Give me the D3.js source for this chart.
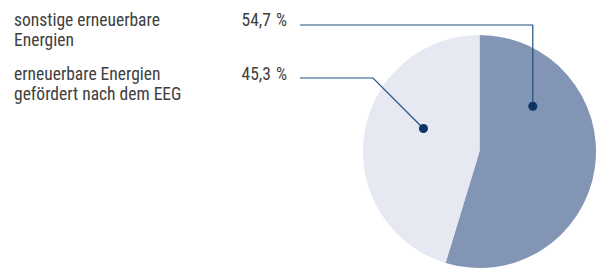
<!DOCTYPE html>
<html>
<head>
<meta charset="utf-8">
<script src="https://cdn.jsdelivr.net/npm/d3@7"></script>
<style>
  body { margin: 0; background: #fff; }
  text { font-family: "Roboto Condensed", "DejaVu Sans Condensed", sans-serif; font-size: 17.5px; fill: #404040; }
</style>
</head>
<body>
<div id="chart"></div>
<script>
// chart data
var labels = [["sonstige erneuerbare", "Energien"], ["erneuerbare Energien", "gefördert nach dem EEG"]];
var values = [54.7, 45.3];
var valueLabels = ["54,7 %", "45,3 %"];
var colors = ["#8295b5", "#e6e8f2"];

var svgWidth = 597;
var svgHeight = 268;

var svg = d3.select("#chart")
  .append("svg")
  .attr("width", svgWidth)
  .attr("height", svgHeight);

// pie position
var cx = 479.5, cy = 151.5, radius = 116.5;

var pie = d3.pie().sort(null).value(d => d);
var arcs = pie(values);
var arc = d3.arc().innerRadius(0).outerRadius(radius);

var pieGroup = svg.append("g")
  .attr("transform", `translate(${cx}, ${cy})`);

pieGroup.selectAll("path")
  .data(arcs)
  .enter()
  .append("path")
  .attr("d", arc)
  .attr("fill", (d, i) => colors[i]);

// text rows
var rowY = [26, 80];
var lineH = 20;

labels.forEach(function(lines, i) {
  var t = svg.append("text")
    .attr("x", 14)
    .attr("y", rowY[i]);
  lines.forEach(function(l, j) {
    t.append("tspan").attr("x", 14).attr("dy", j === 0 ? 0 : lineH).text(l);
  });
  svg.append("text")
    .attr("x", 287)
    .attr("y", rowY[i])
    .attr("text-anchor", "end")
    .attr("word-spacing", 1)
    .text(valueLabels[i]);
});

// callout dots: angle (deg, clockwise from top) and fraction of radius
var callouts = [
  { angle: 49.7, frac: 0.6, lineY: 25, elbowX: null },
  { angle: 292.3, frac: 0.52, lineY: 78, elbowX: 373 }
];

var lineColor = "#20507f";
callouts.forEach(function(c, i) {
  var a = c.angle * Math.PI / 180;
  var dx = cx + Math.sin(a) * radius * c.frac;
  var dy = cy - Math.cos(a) * radius * c.frac;
  var pts;
  if (c.elbowX === null) {
    pts = [[300, c.lineY], [dx, c.lineY], [dx, dy]];
  } else {
    pts = [[300, c.lineY], [c.elbowX, c.lineY], [dx, dy]];
  }
  svg.append("path")
    .attr("d", d3.line()(pts))
    .attr("fill", "none")
    .attr("stroke", lineColor)
    .attr("stroke-width", 1.2);
  svg.append("circle")
    .attr("cx", dx)
    .attr("cy", dy)
    .attr("r", 4.5)
    .attr("fill", "#0b3566");
});
</script>
</body>
</html>
